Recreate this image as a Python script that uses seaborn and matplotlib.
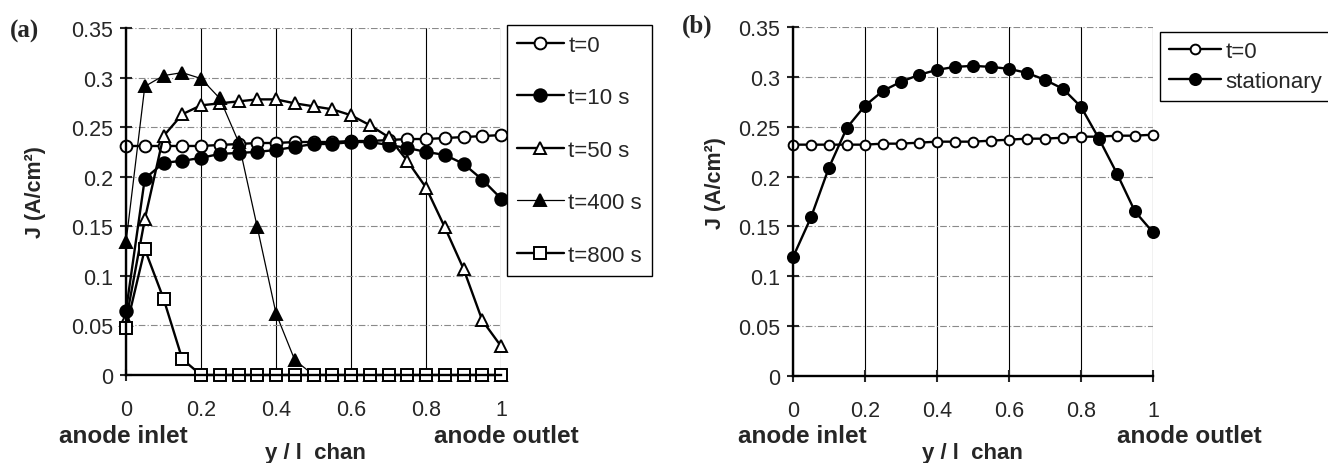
"""Current density along the channel: transient (a) and stationary (b) profiles."""
import matplotlib
matplotlib.use("Agg")
import matplotlib.pyplot as plt
import seaborn as sns

# position along the channel (y / l chan)
pos = [0, 0.05, 0.1, 0.15, 0.2, 0.25, 0.3, 0.35, 0.4, 0.45, 0.5,
       0.55, 0.6, 0.65, 0.7, 0.75, 0.8, 0.85, 0.9, 0.95, 1.0]

# panel (a) - transient current density profiles (A/cm2)
a_t0 = [0.231, 0.231, 0.231, 0.231, 0.231, 0.232, 0.233, 0.234, 0.234, 0.235, 0.235,
        0.235, 0.236, 0.236, 0.237, 0.238, 0.238, 0.239, 0.240, 0.241, 0.242]
a_t10 = [0.065, 0.198, 0.214, 0.216, 0.219, 0.223, 0.224, 0.225, 0.227, 0.230, 0.233,
         0.233, 0.235, 0.235, 0.232, 0.229, 0.225, 0.222, 0.213, 0.197, 0.178]
a_t50 = [0.055, 0.157, 0.241, 0.263, 0.272, 0.274, 0.276, 0.278, 0.278, 0.274, 0.271,
         0.268, 0.262, 0.252, 0.240, 0.216, 0.189, 0.149, 0.107, 0.055, 0.029]
a_t400 = [0.134, 0.291, 0.302, 0.305, 0.299, 0.279, 0.235, 0.149, 0.062, 0.015, 0.0,
          0.0, 0.0, 0.0, 0.0, 0.0, 0.0, 0.0, 0.0, 0.0, 0.0]
a_t800 = [0.047, 0.127, 0.077, 0.016, 0.0, 0.0, 0.0, 0.0, 0.0, 0.0, 0.0,
          0.0, 0.0, 0.0, 0.0, 0.0, 0.0, 0.0, 0.0, 0.0, 0.0]
a_labels = ["t=0", "t=10 s", "t=50 s", "t=400 s", "t=800 s"]

# panel (b) - initial vs stationary profile
b_t0 = [0.232, 0.232, 0.232, 0.232, 0.232, 0.233, 0.233, 0.234, 0.235, 0.235, 0.235,
        0.236, 0.237, 0.238, 0.238, 0.239, 0.240, 0.240, 0.241, 0.241, 0.242]
b_stat = [0.119, 0.159, 0.209, 0.249, 0.271, 0.286, 0.295, 0.302, 0.307, 0.310, 0.311,
          0.310, 0.308, 0.304, 0.297, 0.288, 0.270, 0.238, 0.203, 0.165, 0.144]
b_labels = ["t=0", "stationary"]

y_ticks = [0, 0.05, 0.1, 0.15, 0.2, 0.25, 0.3, 0.35]
y_ticklabels = ["0", "0.05", "0.1", "0.15", "0.2", "0.25", "0.3", "0.35"]
x_ticks = [0, 0.2, 0.4, 0.6, 0.8, 1]
x_ticklabels = ["0", "0.2", "0.4", "0.6", "0.8", "1"]

sns.set_style("white")
plt.rcParams["font.family"] = ["Liberation Sans", "DejaVu Sans"]

fig = plt.figure(figsize=(13.28, 4.64), dpi=100)
ax1 = fig.add_axes([0.0949, 0.1897, 0.2824, 0.7478])
ax2 = fig.add_axes([0.5971, 0.1875, 0.2711, 0.7522])


def style_axes(ax):
    """Excel-like axes: thick left/bottom spines, grey dashed h-grid, black v-grid."""
    ax.set_xlim(0, 1)
    ax.set_ylim(0, 0.35)
    ax.set_xticks(x_ticks)
    ax.set_xticklabels(x_ticklabels)
    ax.set_yticks(y_ticks)
    ax.set_yticklabels(y_ticklabels)
    ax.set_xlabel("")
    ax.set_ylabel("")
    for side in ["top", "right"]:
        ax.spines[side].set_visible(False)
    for side in ["left", "bottom"]:
        ax.spines[side].set_linewidth(1.7)
        ax.spines[side].set_color("black")
        ax.spines[side].set_zorder(5)
    ax.yaxis.grid(True, color="#8a8a8a", linestyle=(0, (6, 2, 1, 2)), linewidth=0.8)
    ax.xaxis.grid(True, color="black", linestyle="-", linewidth=0.8)
    ax.set_axisbelow(True)
    ax.tick_params(axis="y", direction="inout", length=9, width=1.5, pad=5,
                   labelsize=15.5, left=True)
    ax.tick_params(axis="x", direction="inout", length=9, width=1.5, pad=13,
                   labelsize=15.5, bottom=True)


# drawing panel (a)
line_kw = dict(color="black", markeredgecolor="black", markeredgewidth=1.4, clip_on=False)
sns.lineplot(x=pos, y=a_t0, ax=ax1, marker="o", markersize=8.5, linewidth=1.7,
             markerfacecolor="white", label=a_labels[0], **line_kw)
sns.lineplot(x=pos, y=a_t10, ax=ax1, marker="o", markersize=9, linewidth=1.7,
             markerfacecolor="black", label=a_labels[1], **line_kw)
sns.lineplot(x=pos, y=a_t50, ax=ax1, marker="^", markersize=9, linewidth=1.7,
             markerfacecolor="white", label=a_labels[2], **line_kw)
sns.lineplot(x=pos, y=a_t400, ax=ax1, marker="^", markersize=9, linewidth=0.9,
             markerfacecolor="black", label=a_labels[3], **line_kw)
sns.lineplot(x=pos, y=a_t800, ax=ax1, marker="s", markersize=8, linewidth=1.7,
             markerfacecolor="white", label=a_labels[4], **line_kw)
style_axes(ax1)
leg1 = ax1.legend(loc="upper left", bbox_to_anchor=(1.016, 1.01), borderaxespad=0,
                  fontsize=16, labelspacing=1.42, handlelength=2.1, handletextpad=0.2,
                  borderpad=0.45, fancybox=False, edgecolor="black", framealpha=1)
leg1.get_frame().set_linewidth(1.0)

# drawing panel (b)
sns.lineplot(x=pos, y=b_t0, ax=ax2, marker="o", markersize=7, linewidth=1.7,
             markerfacecolor="white", label=b_labels[0], **line_kw)
sns.lineplot(x=pos, y=b_stat, ax=ax2, marker="o", markersize=8, linewidth=1.7,
             markerfacecolor="black", label=b_labels[1], **line_kw)
style_axes(ax2)
leg2 = ax2.legend(loc="upper left", bbox_to_anchor=(1.019, 0.985), borderaxespad=0,
                  fontsize=16, labelspacing=0.4, handlelength=2.35, handletextpad=0.2,
                  borderpad=0.4, fancybox=False, edgecolor="black", framealpha=1)
leg2.get_frame().set_linewidth(1.0)

# labels, placed in figure pixels of the original layout
W, H = 1328.0, 464.0
bold = dict(fontweight="bold", ha="center", va="center")
for cx, lbl_y in [(35, 192), (715, 183)]:
    fig.text(cx / W, 1 - lbl_y / H, "J (A/cm²)", rotation=90, fontsize=15.5, **bold)
for cx in [315, 972]:
    fig.text(cx / W, 1 - 454 / H, "y / l  chan", fontsize=16, **bold)
for cx in [123, 802]:
    fig.text(cx / W, 1 - 437 / H, "anode inlet", fontsize=17.5, **bold)
for cx in [506, 1189]:
    fig.text(cx / W, 1 - 437 / H, "anode outlet", fontsize=17.5, **bold)
fig.text(10 / W, 1 - 31 / H, "(a)", fontsize=18, fontweight="bold", ha="left", va="center",
         family=["Liberation Serif", "DejaVu Serif"])
fig.text(682 / W, 1 - 26 / H, "(b)", fontsize=18, fontweight="bold", ha="left", va="center",
         family=["Liberation Serif", "DejaVu Serif"])

fig.savefig("out.png", dpi=100)
